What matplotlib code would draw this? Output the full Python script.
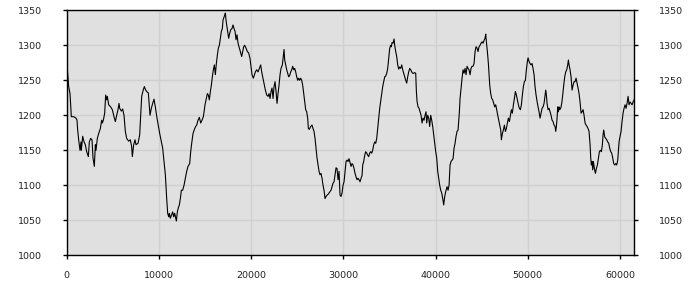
import matplotlib
matplotlib.use("Agg")
import matplotlib.pyplot as plt

x_values = [
    0, 68, 213, 358, 430, 502, 755, 1008, 1117, 1189, 1298, 1442, 1551, 1587, 1731, 1876,
    2020, 2165, 2346, 2454, 2599, 2744, 2852, 2997, 3105, 3177, 3322, 3467, 3647, 3792,
    3864, 3973, 4117, 4226, 4334, 4406, 4551, 4768, 4949, 5129, 5274, 5419, 5563, 5672,
    5744, 5925, 6069, 6214, 6359, 6503, 6720, 6901, 7045, 7118, 7262, 7407, 7515, 7732,
    7913, 8021, 8130, 8274, 8419, 8564, 8744, 8853, 9034, 9178, 9323, 9467, 9612, 9793,
    10084, 10265, 10409, 10554, 10698, 10843, 10951, 11060, 11132, 11241, 11349, 11494,
    11602, 11711, 11819, 11891, 12000, 12108, 12217, 12325, 12434, 12578, 12723, 12867,
    13012, 13157, 13337, 13446, 13554, 13699, 13807, 13880, 13988, 14096, 14241, 14386,
    14530, 14675, 14819, 14892, 15000, 15145, 15253, 15362, 15470, 15579, 15687, 15795,
    15904, 16012, 16121, 16229, 16338, 16446, 16555, 16663, 16772, 16880, 16952, 17061,
    17133, 17205, 17278, 17350, 17458, 17567, 17675, 17784, 17928, 18037, 18145, 18254,
    18362, 18470, 18579, 18724, 18868, 18977, 19085, 19194, 19302, 19447, 19591, 19736,
    19880, 19989, 20097, 20242,
    20460, 20604, 20749, 20893, 21038, 21146, 21255, 21400, 21544, 21689, 21833, 21942,
    22050, 22159, 22267, 22376, 22484, 22592, 22701, 22809, 22918, 23026, 23135, 23243,
    23388, 23496, 23569, 23641, 23749, 23858, 23966, 24075, 24183, 24292, 24400, 24508,
    24617, 24725, 24834, 24942, 25051, 25159, 25268, 25376, 25484, 25593, 25701, 25810,
    25918, 26027, 26135, 26207, 26316, 26461, 26605, 26714, 26822, 26930, 27039, 27147,
    27256, 27364, 27473, 27581, 27690, 27798, 27907, 28015, 28124, 28232, 28340, 28449,
    28557, 28666, 28774, 28883, 28991, 29100, 29208, 29317, 29425, 29534, 29642, 29750,
    29859, 29967, 30076, 30184, 30293, 30401, 30510, 30618,
    30836, 30945, 31053, 31162, 31270, 31379, 31487, 31596, 31704, 31813, 31921, 32029,
    32102, 32210, 32319, 32427, 32536, 32644, 32752, 32861, 32969, 33078, 33186, 33295,
    33403, 33512, 33620, 33728, 33837, 33945, 34054, 34162, 34271, 34379, 34488, 34596,
    34705, 34813, 34921, 35030, 35138, 35211, 35283, 35391, 35500, 35572, 35681, 35789,
    35897, 36006, 36114, 36223, 36331, 36440, 36548, 36657, 36765, 36874, 36982, 37090,
    37199, 37307, 37416, 37524, 37633, 37741, 37850, 37922, 37994, 38103, 38211, 38320,
    38428, 38537, 38645, 38753, 38862, 38970, 39043, 39151, 39259, 39368, 39476, 39585,
    39693, 39802, 39910, 40019, 40127, 40236, 40344, 40453, 40561, 40670, 40778, 40886,
    40995, 41103,
    41248, 41357, 41465, 41574, 41682, 41791, 41899, 42008, 42116, 42225, 42333, 42441,
    42514, 42586, 42658, 42767, 42875, 42984, 43092, 43201, 43309, 43417, 43526, 43634,
    43743, 43851, 43960, 44068, 44177, 44285, 44394, 44502, 44610, 44719, 44827, 44936,
    45044, 45153, 45261, 45370, 45442, 45514, 45623, 45731, 45803, 45876, 45984, 46093,
    46201, 46309, 46418, 46526, 46635, 46743, 46852, 46960, 47069, 47141, 47249, 47358,
    47466, 47575, 47683, 47792, 47900, 48009, 48117, 48225, 48334, 48442, 48551, 48659,
    48768, 48876, 48985, 49093, 49201, 49310, 49418, 49527, 49635, 49744, 49852, 49961,
    50033, 50141, 50250, 50358, 50467, 50575, 50684, 50792, 50901, 51009, 51118, 51226,
    51335, 51443,
    51552, 51660, 51769, 51877, 51950, 52022, 52094, 52203, 52311, 52420, 52528, 52637,
    52745, 52853, 52962, 53034, 53106, 53179, 53251, 53323, 53396, 53468, 53576, 53685,
    53793, 53902, 54010, 54119, 54227, 54335, 54408, 54480, 54589, 54697, 54806, 54914,
    55022, 55131, 55239, 55348, 55456, 55565, 55673, 55782, 55890, 55999, 56107, 56215,
    56324, 56432, 56541, 56649, 56758, 56830, 56902, 56975, 57047, 57119, 57228, 57336,
    57444, 57553, 57661, 57770, 57878, 57987, 58095, 58167, 58240, 58348, 58457, 58565,
    58674, 58782, 58890, 58999, 59107, 59216, 59324, 59433, 59541, 59650, 59758, 59830,
    59903, 60011, 60120, 60228, 60337, 60445, 60553, 60662, 60770, 60879, 60987, 61096,
    61204, 61313, 61421, 61530,
]

y_values = [
    1243, 1266, 1241, 1231, 1215, 1198, 1198, 1196, 1193, 1179, 1165, 1150, 1162, 1150, 1170, 1162,
    1158, 1148, 1141, 1162, 1167, 1165, 1139, 1127, 1158, 1150, 1167, 1174, 1181, 1193,
    1189, 1193, 1203, 1229, 1222, 1227, 1215, 1212, 1208, 1198, 1191, 1200, 1208, 1217,
    1210, 1206, 1209, 1200, 1177, 1167, 1163, 1165, 1155, 1141, 1158, 1165, 1158, 1160,
    1172, 1198, 1227, 1235, 1241, 1236, 1233, 1232, 1200, 1210, 1217, 1223, 1212, 1196,
    1174, 1162, 1153, 1134, 1115, 1081, 1060, 1055, 1060, 1053, 1057, 1062,
    1055, 1060, 1053, 1049, 1062, 1068, 1072, 1081, 1093, 1093, 1100, 1110,
    1120, 1127, 1131, 1148, 1160, 1174, 1178, 1181, 1184, 1186, 1193, 1197,
    1189, 1193, 1198, 1205, 1215, 1224, 1231, 1229, 1222, 1234, 1243, 1255,
    1265, 1272, 1258, 1274, 1286, 1296, 1300, 1310, 1320, 1324, 1336, 1340,
    1343, 1346, 1336, 1329, 1320, 1310, 1317, 1322, 1324, 1329, 1324, 1320,
    1308, 1315, 1303, 1296, 1289, 1284, 1291, 1298, 1300, 1296, 1291, 1289,
    1281, 1270, 1258, 1253,
    1262, 1265, 1262, 1267, 1272, 1262, 1255, 1246, 1236, 1229, 1227, 1231,
    1224, 1234, 1239, 1224, 1241, 1248, 1234, 1217, 1231, 1243, 1258, 1267,
    1272, 1286, 1294, 1279, 1272, 1265, 1260, 1255, 1257, 1262, 1265, 1270,
    1265, 1267, 1262, 1255, 1250, 1253, 1250, 1253, 1250, 1243, 1231, 1220,
    1208, 1205, 1196, 1181, 1180, 1184, 1186, 1181, 1177, 1167, 1153, 1139,
    1129, 1120, 1115, 1117, 1110, 1100, 1093, 1081, 1084, 1086, 1087, 1089,
    1091, 1093, 1098, 1103, 1105, 1115, 1125, 1124, 1108, 1120, 1086, 1084,
    1089, 1100, 1105, 1120, 1134, 1136, 1134, 1138,
    1127, 1131, 1129, 1124, 1117, 1112, 1108, 1110, 1108, 1105, 1110, 1114,
    1129, 1134, 1143, 1148, 1146, 1143, 1141, 1146, 1148, 1146, 1150, 1158,
    1162, 1160, 1167, 1181, 1196, 1210, 1220, 1229, 1241, 1248, 1255, 1256,
    1260, 1267, 1281, 1296, 1300, 1298, 1304, 1303, 1309, 1300, 1291, 1284,
    1272, 1266, 1269, 1267, 1272, 1265, 1260, 1255, 1250, 1246, 1255, 1262,
    1267, 1265, 1262, 1260, 1260, 1261, 1260, 1234, 1220, 1212, 1210, 1205,
    1200, 1189, 1196, 1193, 1200, 1205, 1189, 1200, 1196, 1184, 1200, 1193,
    1184, 1172, 1160, 1148, 1139, 1120, 1110, 1100, 1093, 1089, 1081, 1072,
    1084, 1091,
    1098, 1093, 1100, 1129, 1134, 1136, 1138, 1153, 1160, 1170, 1177, 1179,
    1193, 1205, 1224, 1239, 1253, 1265, 1260, 1267, 1258, 1270, 1267, 1265,
    1258, 1267, 1270, 1270, 1274, 1291, 1298, 1296, 1291, 1298, 1300, 1303,
    1305, 1303, 1307, 1310, 1316, 1305, 1291, 1274, 1258, 1243, 1231, 1224,
    1222, 1217, 1212, 1215, 1208, 1200, 1193, 1186, 1179, 1165, 1174, 1179,
    1186, 1177, 1181, 1189, 1196, 1191, 1200, 1208, 1203, 1215, 1224, 1234,
    1229, 1222, 1215, 1210, 1208, 1215, 1229, 1241, 1248, 1250, 1265, 1277,
    1282, 1277, 1274, 1272, 1274, 1267, 1258, 1241, 1229, 1220, 1212, 1205,
    1196, 1203,
    1210, 1212, 1217, 1229, 1236, 1229, 1217, 1208, 1210, 1205, 1200, 1193,
    1191, 1186, 1184, 1177, 1184, 1196, 1212, 1205, 1212, 1208, 1210, 1217,
    1229, 1243, 1255, 1262, 1265, 1272, 1279, 1272, 1265, 1255, 1236, 1243,
    1248, 1248, 1253, 1246, 1239, 1231, 1219, 1203, 1205, 1208, 1200, 1189,
    1186, 1184, 1181, 1177, 1158, 1139, 1129, 1134, 1122, 1134, 1124, 1117,
    1124, 1129, 1139, 1148, 1150, 1148, 1158, 1172, 1179, 1169, 1167, 1165,
    1162, 1160, 1153, 1148, 1146, 1139, 1131, 1129, 1131, 1129, 1136, 1148,
    1162, 1170, 1177, 1191, 1203, 1210, 1215, 1210, 1217, 1227, 1215, 1219,
    1217, 1215, 1219, 1222,
]

x_ticks = [0, 10000, 20000, 30000, 40000, 50000, 60000]
y_ticks = [1000, 1050, 1100, 1150, 1200, 1250, 1300, 1350]
x_max = 61560

fig = plt.figure(figsize=(7, 3), dpi=100, facecolor="white")
ax = fig.add_axes([0.0953, 0.149, 0.8109, 0.8167])
ax.set_facecolor("#e0e0e0")

ax.plot(x_values, y_values, color="black", linewidth=0.8, zorder=3)

ax.set_xlim(0, x_max)
ax.set_ylim(1000, 1350)
ax.set_xticks(x_ticks)
ax.set_yticks(y_ticks)
ax.set_xticklabels([str(t) for t in x_ticks])
ax.set_yticklabels([str(t) for t in y_ticks])

ax.grid(True, color="#d0d0d0", linewidth=1.0, zorder=1)
ax.set_axisbelow(True)

for sp in ax.spines.values():
    sp.set_color("black")
    sp.set_linewidth(1.0)

ax.tick_params(axis="both", direction="out", length=3, width=1, color="black",
               labelsize=6.8, labelcolor="#222222")
ax.tick_params(axis="y", left=True, right=True, labelleft=True, labelright=True, pad=15)
ax.tick_params(axis="x", pad=8)

fig.savefig("out.png", dpi=100, facecolor="white")
